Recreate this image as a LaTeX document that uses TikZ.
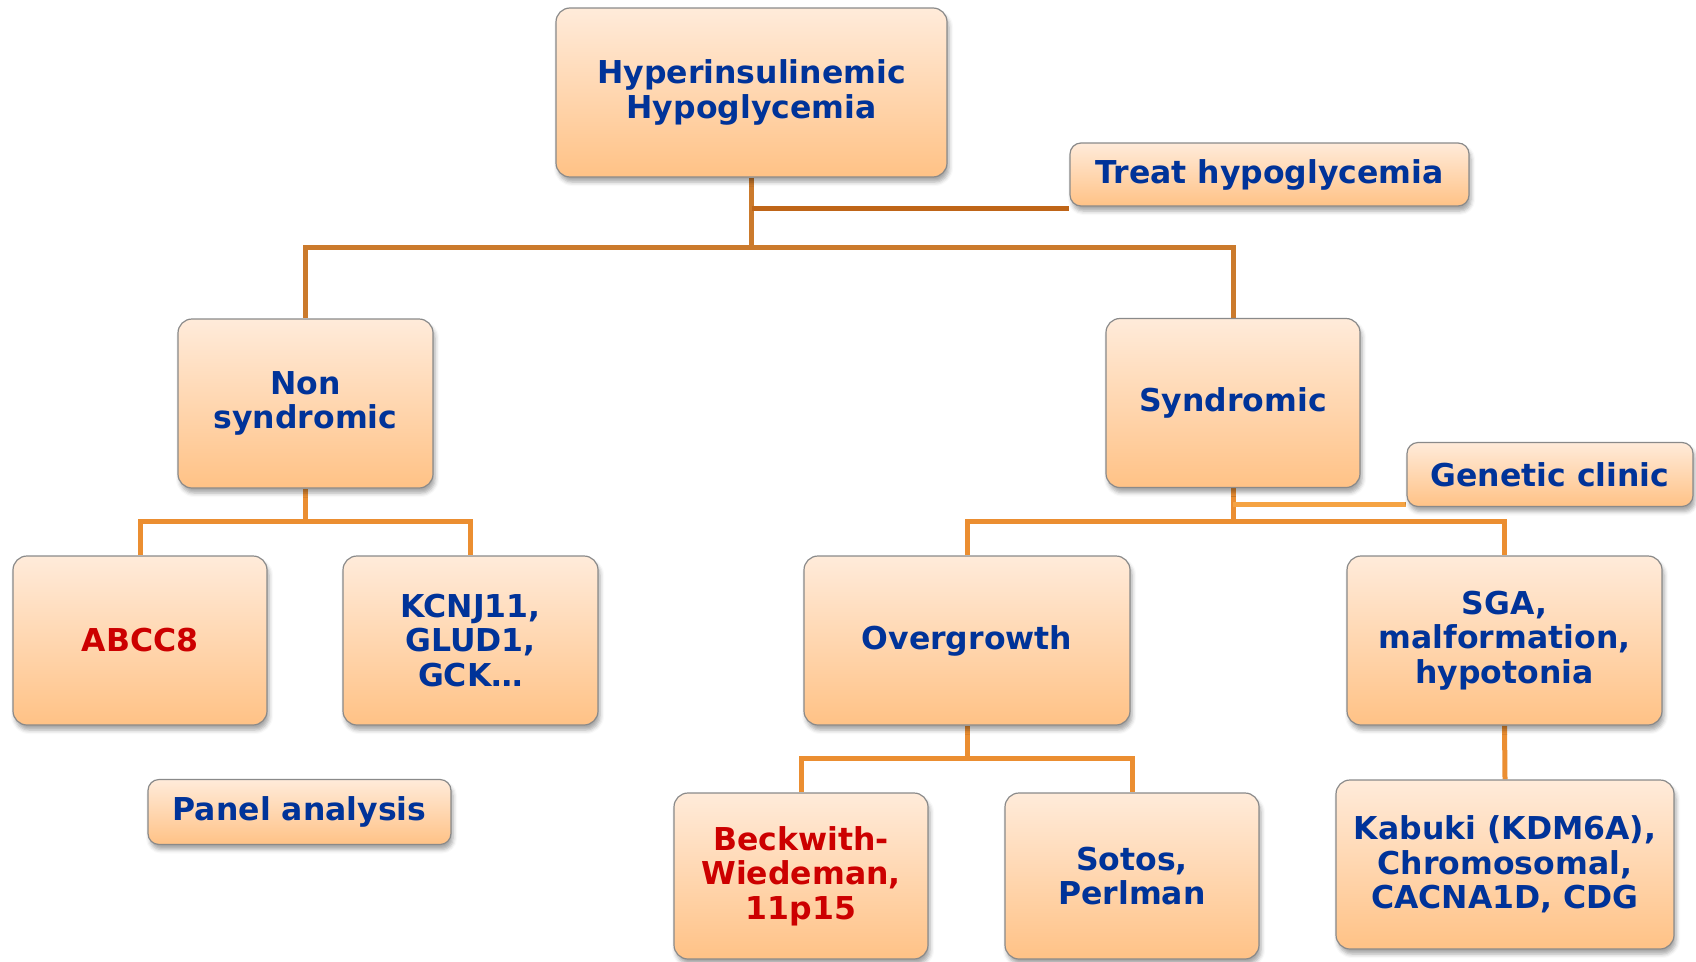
\documentclass[tikz,border=0pt]{standalone}
\usepackage{fontspec}
\setmainfont{DejaVu Sans}
\usetikzlibrary{shadows.blur,backgrounds}
\definecolor{txtblue}{HTML}{003399}
\definecolor{txtred}{HTML}{CC0000}
\definecolor{boxtop}{HTML}{FFEBDA}
\definecolor{boxbot}{HTML}{FFC286}
\definecolor{boxedge}{HTML}{8A8A8A}
\definecolor{lineA}{HTML}{CB7A2C}
\definecolor{lineB}{HTML}{BF6518}
\definecolor{lineC}{HTML}{EB8E31}
\definecolor{lineD}{HTML}{F5A343}
\tikzset{
  box/.style={draw=boxedge, line width=1.2pt, rounded corners=14pt,
    top color=boxtop, bottom color=boxbot, inner sep=0pt, align=center,
    text=txtblue, font=\bfseries\fontsize{31.5}{34.5}\selectfont,
    blur shadow={shadow xshift=2pt, shadow yshift=-5pt, shadow blur radius=4pt, shadow opacity=35}},
  bigbox/.style={box, minimum height=169pt},
  smallbox/.style={box, minimum height=64pt, rounded corners=11pt},
  redtext/.style={text=txtred},
  conn/.style={line width=5pt},
}
\begin{document}
\begin{tikzpicture}[x=1pt,y=-1pt]
\useasboundingbox (0,0) rectangle (1696,961);
% nodes
\node[bigbox, minimum width=391pt] (top) at (751.5,92.5) {Hyperinsulinemic\\Hypoglycemia};
\node[smallbox, minimum width=399pt, minimum height=63pt] (treat) at (1269.5,174.5) {Treat hypoglycemia};
\node[bigbox, minimum width=255pt] (nonsyn) at (305.5,403.5) {Non\\syndromic};
\node[bigbox, minimum width=254pt] (syn) at (1233,403) {Syndromic};
\node[smallbox, minimum width=286pt] (genetic) at (1550,474.5) {Genetic clinic};
\node[bigbox, minimum width=254pt, redtext] (abcc8) at (140,640.5) {ABCC8};
\node[bigbox, minimum width=255pt] (kcnj) at (470.5,640.5) {KCNJ11,\\GLUD1,\\GCK…};
\node[bigbox, minimum width=326pt] (over) at (967,640.5) {Overgrowth};
\node[bigbox, minimum width=315pt] (sga) at (1504.5,640.5) {SGA,\\malformation,\\hypotonia};
\node[smallbox, minimum width=303pt, minimum height=65pt] (panel) at (299.5,812) {Panel analysis};
\node[bigbox, minimum width=254pt, minimum height=166pt, redtext] (beck) at (801,876) {Beckwith-\\Wiedeman,\\11p15};
\node[bigbox, minimum width=254pt, minimum height=166pt] (sotos) at (1132,876) {Sotos,\\Perlman};
\node[bigbox, minimum width=338pt] (kabuki) at (1505,864.5) {Kabuki (KDM6A),\\Chromosomal,\\CACNA1D, CDG};
% connectors
\begin{scope}[on background layer]
\draw[conn, lineA] (top.south) -- ++(0,70) coordinate (j1);
\draw[conn, lineA] (nonsyn.north) |- (j1) -| (syn.north);
\draw[conn, lineB] (top.south) ++(0,31) coordinate (tj);
\draw[conn, lineB] (tj) -- (tj -| treat.west);
\draw[conn, lineC] (nonsyn.south) -- ++(0,33) coordinate (j2);
\draw[conn, lineC] (abcc8.north) |- (j2) -| (kcnj.north);
\draw[conn, lineC] (syn.south) -- ++(0,33) coordinate (j3);
\draw[conn, lineC] (over.north) |- (j3) -| (sga.north);
\draw[conn, lineD] (syn.south) ++(0,16) coordinate (gj);
\draw[conn, lineD] (gj) -- (gj -| genetic.west);
\draw[conn, lineC] (over.south) -- ++(0,33) coordinate (j4);
\draw[conn, lineC] (beck.north) |- (j4) -| (sotos.north);
\draw[conn, lineC] (sga.south) -- (kabuki.north);
\end{scope}
\end{tikzpicture}
\end{document}
